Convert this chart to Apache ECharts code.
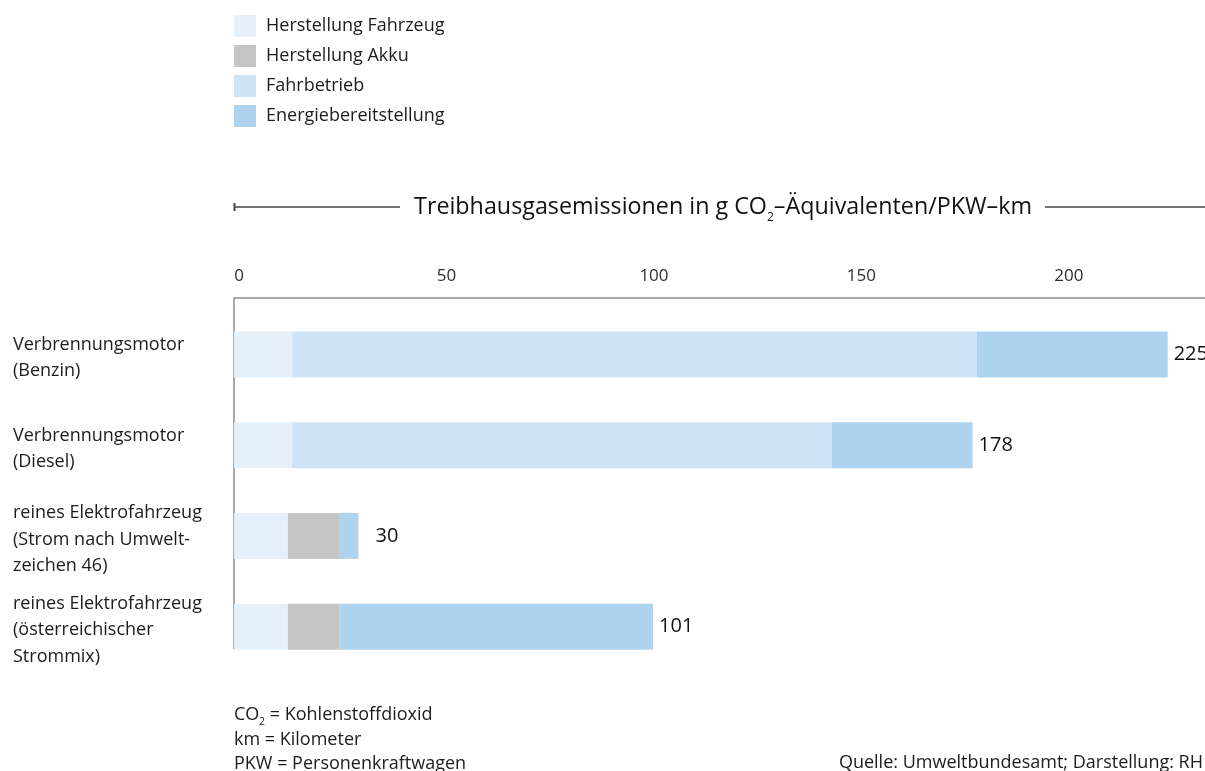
<!DOCTYPE html>
<html lang="de">
<head>
<meta charset="utf-8">
<title>Treibhausgasemissionen PKW</title>
<script src="https://cdn.jsdelivr.net/npm/echarts@6/dist/echarts.min.js"></script>
<style>
  html, body { margin: 0; padding: 0; background: #ffffff; }
  #chart { width: 1205px; height: 771px; }
</style>
</head>
<body>
<div id="chart"></div>
<script>
// Fahrzeugtypen (von oben nach unten)
const categories = [
  'Verbrennungsmotor\n(Benzin)',
  'Verbrennungsmotor\n(Diesel)',
  'reines Elektrofahrzeug\n(Strom nach Umwelt-\nzeichen 46)',
  'reines Elektrofahrzeug\n(österreichischer\nStrommix)'
];

// Anteile in g CO2-Äquivalenten je PKW-km
const herstellungFahrzeug = [14, 14, 13, 13];
const herstellungAkku = [0, 0, 12.5, 12.5];
const fahrbetrieb = [165, 130, 0, 0];
const energiebereitstellung = [46, 34, 4.5, 75.5];

const seriesNames = ['Herstellung Fahrzeug', 'Herstellung Akku', 'Fahrbetrieb', 'Energiebereitstellung'];
const axisTicks = [0, 50, 100, 150, 200];

const FONT = '"Open Sans", "Noto Sans", sans-serif';
const TEXT = '#1c1c1c';
const colors = ['#e5f0fa', '#c5c5c5', '#cfe3f7', '#aed3ee'];

const parts = [herstellungFahrzeug, herstellungAkku, fahrbetrieb, energiebereitstellung];
const totals = categories.map((_, i) => parts.reduce((s, arr) => s + arr[i], 0));

const chart = echarts.init(document.getElementById('chart'), null, { renderer: 'canvas' });

const series = parts.map((arr, si) => {
  const last = si === parts.length - 1;
  return {
    name: seriesNames[si],
    type: 'bar',
    stack: 'gesamt',
    barWidth: 46,
    itemStyle: { color: colors[si] },
    emphasis: { disabled: true },
    data: arr.map((v, i) => {
      if (!last) return v;
      // kurze Balken bekommen etwas mehr Abstand zur Summe
      return totals[i] < 50 ? { value: v, label: { distance: 17 } } : v;
    }),
    label: last ? {
      show: true,
      position: 'right',
      distance: 6,
      color: '#111',
      fontFamily: FONT,
      fontSize: 20,
      formatter: p => String(Math.round(totals[p.dataIndex]))
    } : { show: false }
  };
});

chart.setOption({
  animation: false,
  backgroundColor: '#ffffff',
  textStyle: { fontFamily: FONT },
  legend: {
    orient: 'vertical',
    left: 234,
    top: 15,
    padding: 0,
    itemWidth: 22,
    itemHeight: 22,
    itemGap: 8,
    icon: 'rect',
    selectedMode: false,
    data: seriesNames,
    textStyle: { fontFamily: FONT, fontSize: 18, color: TEXT, padding: [0, 0, 0, 5] }
  },
  grid: { left: 234, right: 0, top: 309, height: 363, containLabel: false },
  xAxis: {
    type: 'value',
    position: 'top',
    offset: 11,
    min: 0,
    max: 234,
    interval: 50,
    splitLine: { show: false },
    axisTick: { show: false },
    axisLine: { show: true, lineStyle: { color: '#aaaaaa', width: 2 } },
    axisLabel: {
      margin: 13,
      fontFamily: FONT,
      fontSize: 17,
      color: '#2e2e2e',
      padding: [0, 0, 0, 10],
      showMaxLabel: false,
      formatter: v => (axisTicks.includes(v) ? String(v) : '')
    }
  },
  yAxis: {
    type: 'category',
    inverse: true,
    data: categories,
    axisLine: { show: false },
    axisTick: { show: false },
    axisLabel: {
      align: 'left',
      margin: 221,
      // kleiner Leerraum oberhalb, damit der Text etwas tiefer sitzt
      formatter: v => '{g| }\n' + v.split('\n').map(l => '{t|' + l + '}').join('\n'),
      rich: {
        g: { fontSize: 4, lineHeight: 7 },
        t: { fontFamily: FONT, fontSize: 18, lineHeight: 26.5, color: TEXT }
      }
    }
  },
  graphic: [
    // linke Begrenzung der Zeichenfläche
    { type: 'line', shape: { x1: 234, y1: 298, x2: 234, y2: 649 }, style: { stroke: '#aaaaaa', lineWidth: 2 } },
    // Achsentitel mit Linien
    { type: 'line', shape: { x1: 234, y1: 207, x2: 400, y2: 207 }, style: { stroke: '#444', lineWidth: 1.5 } },
    { type: 'line', shape: { x1: 234.5, y1: 203, x2: 234.5, y2: 211 }, style: { stroke: '#444', lineWidth: 2 } },
    { type: 'line', shape: { x1: 1045, y1: 207, x2: 1205, y2: 207 }, style: { stroke: '#444', lineWidth: 1.5 } },
    {
      type: 'text',
      x: 723, y: 207,
      style: {
        text: '{m|Treibhausgasemissionen in g CO}{s|2}{m|–Äquivalenten/PKW–km}',
        align: 'center',
        verticalAlign: 'middle',
        rich: {
          m: { fontFamily: FONT, fontSize: 23.3, lineHeight: 34, fill: '#111' },
          s: { fontFamily: FONT, fontSize: 12, lineHeight: 12, verticalAlign: 'bottom', fill: '#111' }
        }
      }
    },
    // Abkürzungen
    {
      type: 'text',
      left: 234, top: 706,
      style: {
        text: '{m|CO}{s|2}{m| = Kohlenstoffdioxid}\n{m|km = Kilometer}\n{m|PKW = Personenkraftwagen}',
        rich: {
          m: { fontFamily: FONT, fontSize: 18, lineHeight: 24.5, fill: TEXT },
          s: { fontFamily: FONT, fontSize: 10, lineHeight: 10, verticalAlign: 'bottom', fill: TEXT }
        }
      }
    },
    {
      type: 'text',
      right: 2, top: 754,
      style: { text: 'Quelle: Umweltbundesamt; Darstellung: RH', fontFamily: FONT, fontSize: 18, fill: TEXT }
    }
  ],
  series: series
});
</script>
</body>
</html>
